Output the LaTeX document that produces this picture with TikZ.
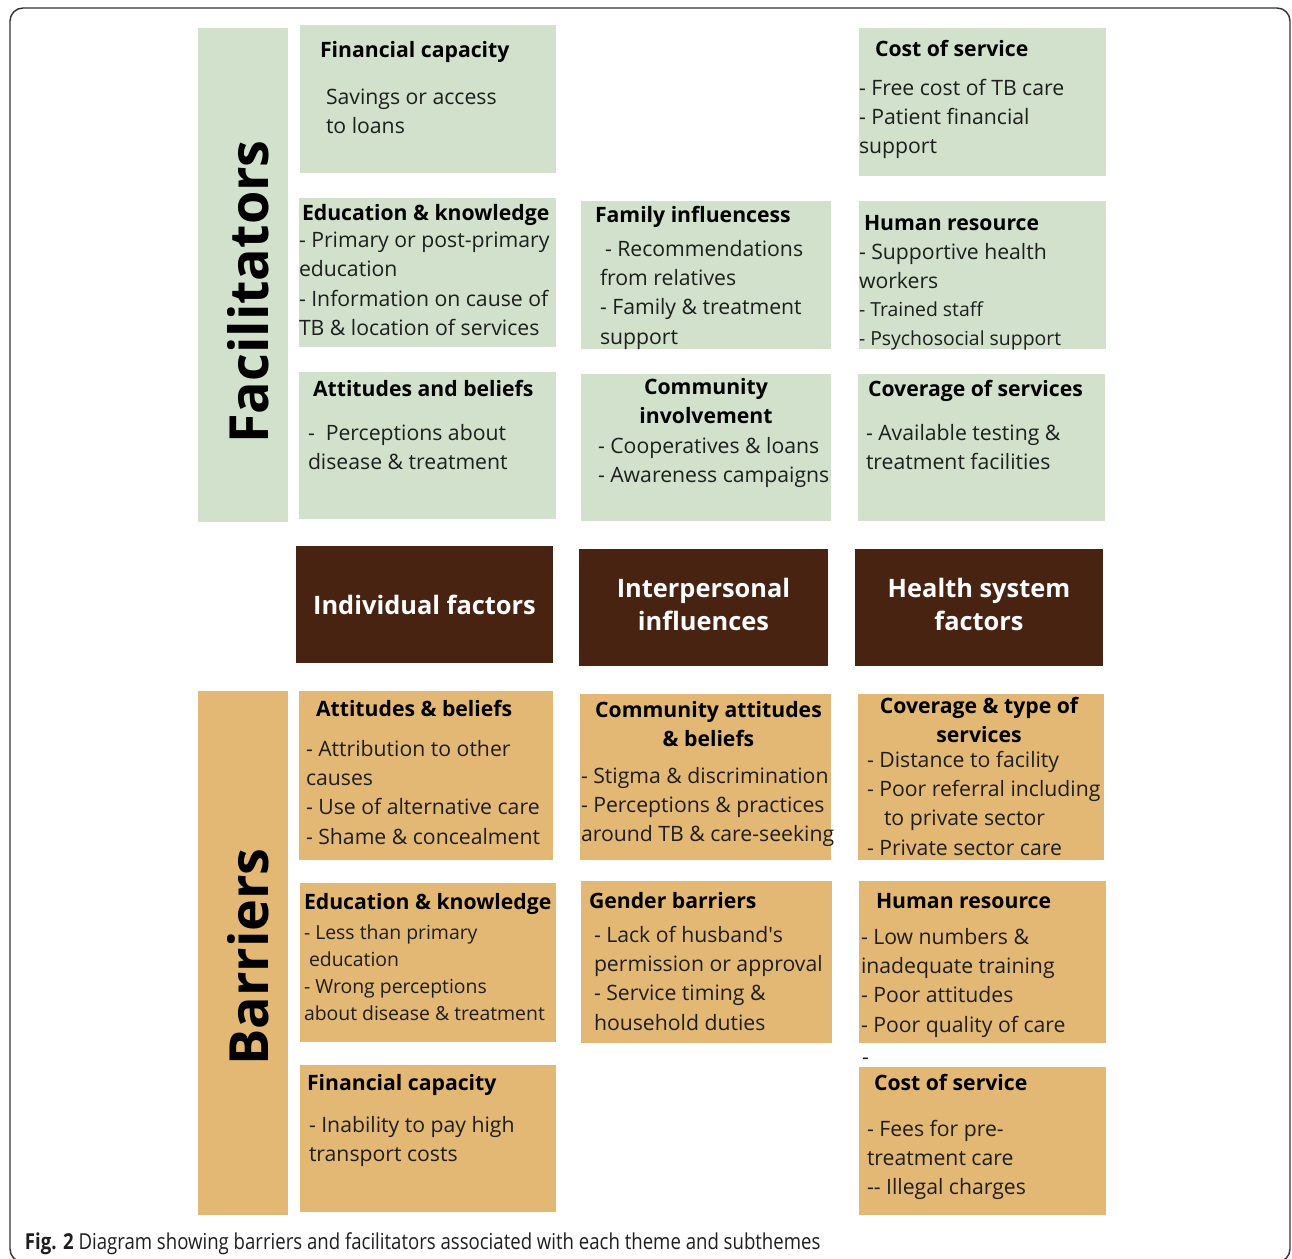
\documentclass[tikz,border=0pt]{standalone}
\usepackage{fontspec}
\setmainfont{Open Sans}
\newfontfamily\capfont{Open Sans}[FakeStretch=0.845]
\newfontfamily\rawfont{Open Sans}[Ligatures=TeXOff]
\usepackage{xcolor}
\usepackage{tikz}
\usetikzlibrary{positioning,fit,calc}
\definecolor{tbink}{HTML}{1E1E1E}
\definecolor{tbgreen}{HTML}{D1E1CC}
\definecolor{tbtan}{HTML}{E3B875}
\definecolor{tbbrown}{HTML}{482311}
\definecolor{tbframe}{HTML}{333333}
\newcommand{\bodysize}{\fontsize{10.6}{14.65}\selectfont}
\newcommand{\smallsize}{\fontsize{9.7}{13.5}\selectfont}

\begin{document}
\begin{tikzpicture}[
  x=0.5pt, y=-0.5pt,
  font=\bodysize,
  every node/.style={inner sep=0pt, outer sep=0pt},
  fpanel/.style={fill=tbgreen},
  bpanel/.style={fill=tbtan},
  theme/.style={fill=tbbrown},
  themel/.style={anchor=base, align=center, text=white,
    font=\fontsize{12.7}{16.5}\selectfont\bfseries},
  side/.style={rotate=90, anchor=base, text=black,
    font=\fontsize{27}{32}\selectfont\bfseries},
  head/.style={anchor=base west, align=left, text=black, font=\bodysize\bfseries},
  headc/.style={anchor=north, align=center, text=black, font=\bodysize\bfseries},
  items/.style={anchor=north west, align=left, text=tbink},
  ]
  \useasboundingbox (0,0) rectangle (1292,1259);
  \draw[tbframe, line width=0.7pt, rounded corners=6.5pt] (10,8) rectangle (1290,1262);

  % Facilitators: side bar and the nine green panels.
  \node[fpanel, fit={(198,28) (288,522)}] (fbar) {};
  \node[side] (fbarl) at ($(fbar.center)+(25,17)$) {Facilitators};

  \node[fpanel, fit={(300,25) (556,173)}] (ffin) {};
  \node[head] (ffinh) at ($(ffin.north west)+(20,32)$) {Financial capacity};
  \node[items] (ffinl) at ($(ffin.north west)+(26,64)$) {Savings or access\\to loans};

  \node[fpanel, fit={(859,28) (1106,176)}] (fcost) {};
  \node[head] (fcosth) at ($(fcost.north west)+(16,28)$) {Cost of service};
  \node[items] (fcostl) at ($(fcost.north west)+(0,51)$) {- Free cost of TB care\\- Patient financial\\support};

  \node[fpanel, fit={(299,198) (556,347)}] (fedu) {};
  \node[head] (feduh) at ($(fedu.north west)+(3,22)$) {Education \& knowledge};
  \node[items] (fedul) at ($(fedu.north west)+(0,34)$) {- Primary or post-primary\\education\\- Information on cause of\\TB \& location of services};

  \node[fpanel, fit={(581,201) (831,349)}] (ffam) {};
  \node[head] (ffamh) at ($(ffam.north west)+(14,21)$) {Family influencess};
  \node[items] (ffaml) at ($(ffam.north west)+(19,39)$) {\hspace*{2.5pt}- Recommendations\\from relatives\\- Family \& treatment\\support};

  \node[fpanel, fit={(859,201) (1106,349)}] (fhum) {};
  \node[head] (fhumh) at ($(fhum.north west)+(5,29)$) {Human resource};
  \node[items] (fhuml) at ($(fhum.north west)+(0,42)$) {- Supportive health\\workers\\[-0.5pt]{\smallsize - Trained staff}\\[-0.5pt]{\smallsize - Psychosocial support}};

  \node[fpanel, fit={(299,372) (556,519)}] (fatt) {};
  \node[head] (fatth) at ($(fatt.north west)+(14,24)$) {Attitudes and beliefs};
  \node[items] (fattl) at ($(fatt.north west)+(9,52)$) {-~ Perceptions about\\disease \& treatment};

  \node[fpanel, fit={(581,374) (831,521)}] (fcom) {};
  \node[headc] (fcomh) at ($(fcom.north)+(0,4)$) {Community\\involvement};
  \node[items] (fcoml) at ($(fcom.north west)+(17,63)$) {- Cooperatives \& loans\\- Awareness campaigns};

  \node[fpanel, fit={(858,374) (1105,521)}] (fcov) {};
  \node[head] (fcovh) at ($(fcov.north west)+(10,22)$) {Coverage of services};
  \node[items] (fcovl) at ($(fcov.north west)+(8,50)$) {- Available testing \&\\treatment facilities};

  % The three themes.
  \node[theme, fit={(296,546) (553,663)}] (tind) {};
  \node[themel] (tindl) at ($(tind.center)+(0,9.5)$) {Individual factors};
  \node[theme, fit={(579,549) (828,666)}] (tint) {};
  \node[themel] (tintl) at ($(tint.center)+(0,22.5)$) {Interpersonal\\influences};
  \node[theme, fit={(855,549) (1103,666)}] (thea) {};
  \node[themel] (theal) at ($(thea.center)+(0,22.5)$) {Health system\\factors};

  % Barriers: side bar and the eight tan panels.
  \node[bpanel, fit={(198,691) (288,1215)}] (bbar) {};
  \node[side] (bbarl) at ($(bbar.center)+(25,4)$) {Barriers};

  \node[bpanel, fit={(299,691) (553,860)}] (batt) {};
  \node[head] (batth) at ($(batt.north west)+(17,25)$) {Attitudes \& beliefs};
  \node[items] (battl) at ($(batt.north west)+(7,49)$) {- Attribution to other\\causes\\- Use of alternative care\\- Shame \& concealment};

  \node[bpanel, fit={(580,694) (831,860)}] (bcom) {};
  \node[headc] (bcomh) at ($(bcom.north)+(3,7)$) {Community attitudes\\\& beliefs};
  \node[items] (bcoml) at ($(bcom.north west)+(1,73)$) {- Stigma \& discrimination\\- Perceptions \& practices\\around TB \& care-seeking};

  \node[bpanel, fit={(858,694) (1104,860)}] (bcov) {};
  \node[headc] (bcovh) at ($(bcov.north)+(-2,3)$) {Coverage \& type of\\services};
  \node[items] (bcovl) at ($(bcov.north west)+(9,57)$) {- Distance to facility\\- Poor referral including\\\hspace*{8.5pt}to private sector\\- Private sector care};

  \node[bpanel, fit={(300,883) (556,1042)}] (bedu) {};
  \node[head] (beduh) at ($(bedu.north west)+(4,26)$) {Education \& knowledge};
  \node[items, font=\smallsize] (bedul) at ($(bedu.north west)+(4,42)$) {- Less than primary\\\hspace*{2.5pt}education\\- Wrong perceptions\\about disease \& treatment};

  \node[bpanel, fit={(581,881) (832,1043)}] (bgen) {};
  \node[head] (bgenh) at ($(bgen.north west)+(8,27)$) {Gender barriers};
  \node[items] (bgenl) at ($(bgen.north west)+(13,45)$) {- Lack of husband{\rawfont'}s\\permission or approval\\- Service timing \&\\household duties};

  \node[bpanel, fit={(859,881) (1106,1043)}] (bhum) {};
  \node[head] (bhumh) at ($(bhum.north west)+(17,27)$) {Human resource};
  \node[items] (bhuml) at ($(bhum.north west)+(2,47)$) {- Low numbers \&\\inadequate training\\- Poor attitudes\\- Poor quality of care};
  \node[anchor=base west, text=tbink] (bdash) at ($(bhum.south west)+(3,21)$) {-};

  \node[bpanel, fit={(300,1065) (556,1212)}] (bfin) {};
  \node[head] (bfinh) at ($(bfin.north west)+(7,25)$) {Financial capacity};
  \node[items] (bfinl) at ($(bfin.north west)+(9,51)$) {- Inability to pay high\\transport costs};

  \node[bpanel, fit={(859,1067) (1106,1215)}] (bcost) {};
  \node[head] (bcosth) at ($(bcost.north west)+(15,23)$) {Cost of service};
  \node[items] (bcostl) at ($(bcost.north west)+(8,53)$) {- Fees for pre-\\treatment care\\-{}- Illegal charges};

  % Caption.
  \node[anchor=base west, text=tbink, font=\capfont\fontsize{11}{13}\selectfont] (cap) at (25,1249)
    {\textbf{Fig. 2} Diagram showing barriers and facilitators associated with each theme and subthemes};
\end{tikzpicture}
\end{document}
